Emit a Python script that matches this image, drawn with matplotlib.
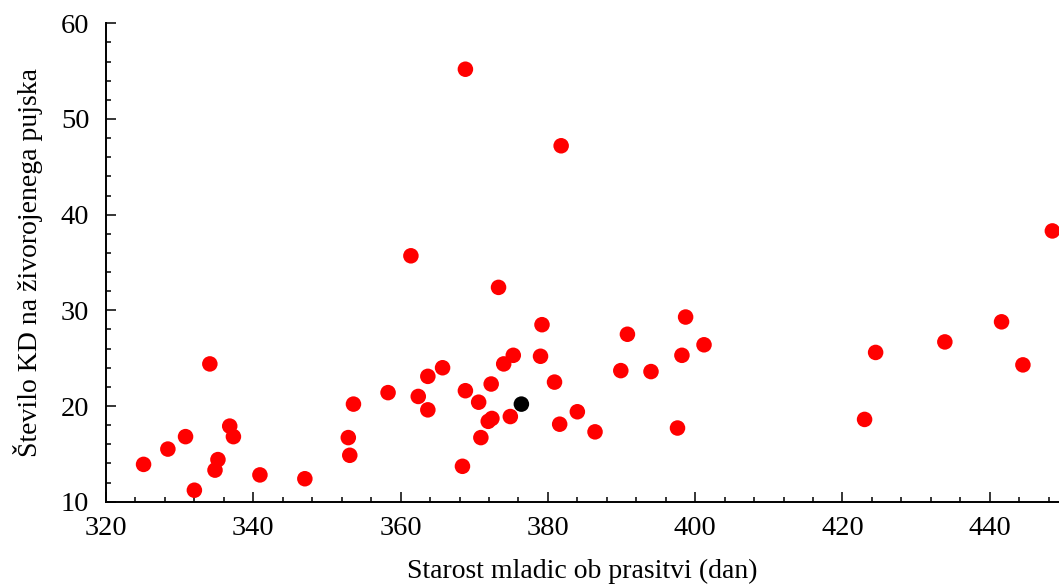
import numpy as np
import matplotlib
matplotlib.use("Agg")
import matplotlib.pyplot as plt
from matplotlib.ticker import MultipleLocator

# age of gilts at farrowing (days) vs. number of piglets per live-born
age_red = [325.1, 328.4, 330.8, 332.0, 334.1, 335.2, 334.8, 336.8, 337.3, 340.9,
           347.0, 353.6, 352.9, 353.1, 358.3, 362.4, 363.7, 365.7, 363.7, 368.4,
           368.8, 370.6, 372.3, 372.4, 371.9, 370.9, 374.0, 375.3, 374.9, 379.0,
           380.9, 381.6, 384.0, 386.4, 390.8, 389.9, 394.0, 398.7, 401.2, 398.2,
           397.6, 448.5, 441.6, 433.9, 424.5, 444.5, 423.0, 361.4, 373.3, 379.2,
           368.8, 381.8]
kd_red = [13.9, 15.5, 16.8, 11.2, 24.4, 14.4, 13.3, 17.9, 16.8, 12.8,
          12.4, 20.2, 16.7, 14.85, 21.4, 21.0, 23.1, 24.0, 19.6, 13.7,
          21.6, 20.4, 22.3, 18.7, 18.4, 16.7, 24.4, 25.3, 18.9, 25.2,
          22.5, 18.1, 19.4, 17.3, 27.5, 23.7, 23.6, 29.3, 26.4, 25.3,
          17.7, 38.3, 28.8, 26.7, 25.6, 24.3, 18.6, 35.7, 32.4, 28.5,
          55.2, 47.2]
age_black = [376.4]
kd_black = [20.2]

plt.rcParams["font.family"] = ["Liberation Serif", "DejaVu Serif"]

fig = plt.figure(figsize=(10.59, 5.87), dpi=100)
ax = fig.add_axes([106 / 1059, 85.3 / 587, 953 / 1059, 478.4 / 587])

ax.scatter(age_red, kd_red, s=125, color="#ff0000", edgecolors="none", zorder=3)
ax.scatter(age_black, kd_black, s=125, color="black", edgecolors="none", zorder=4)

ax.set_xlim(320, 449.4)
ax.set_ylim(10, 60)
ax.xaxis.set_major_locator(MultipleLocator(20))
ax.xaxis.set_minor_locator(MultipleLocator(4))
ax.yaxis.set_major_locator(MultipleLocator(10))
ax.yaxis.set_minor_locator(MultipleLocator(2))

for s in ("top", "right"):
    ax.spines[s].set_visible(False)
for s in ("left", "bottom"):
    ax.spines[s].set_linewidth(1.4)

ax.tick_params(which="major", direction="in", length=7, width=1.1, labelsize=20.5, pad=10)
ax.tick_params(which="minor", direction="in", length=3.5, width=1.1)
ax.tick_params(axis="y", which="major", pad=12)

ax.set_xlabel("Starost mladic ob prasitvi (dan)", fontsize=20, labelpad=13)
ax.set_ylabel("Število KD na živorojenega pujska", fontsize=20, labelpad=13)

fig.savefig("out.png", dpi=100)
